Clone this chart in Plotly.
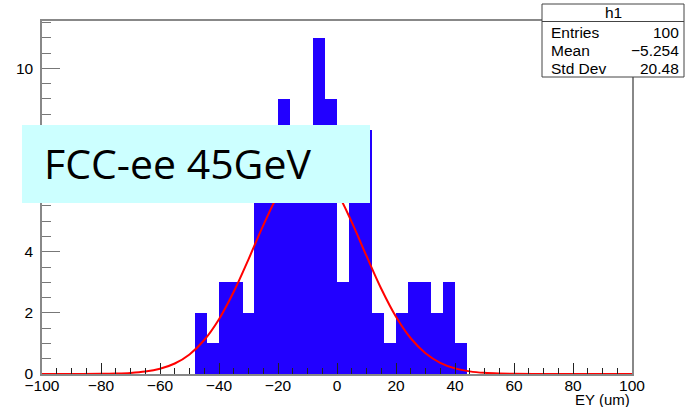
import plotly.graph_objects as go

# ---- data ----
bin_centers = [-46, -42, -38, -34, -30, -26, -22, -18, -14, -10, -6, -2,
               2, 6, 10, 14, 18, 22, 26, 30, 34, 38, 42]
bin_counts = [2, 1, 3, 3, 2, 7, 6, 9, 7, 6, 11, 9,
              3, 6, 8, 2, 1, 2, 3, 3, 2, 3, 1]
bin_width = 4

fit_x = [-100, -90, -80, -75, -70, -65, -60, -55, -50, -45, -40, -35, -30, -25,
         -20, -15, -10, -5, 0, 5, 10, 15, 20, 25, 30, 35, 40, 45, 50, 55, 60,
         70, 80, 90, 100]
fit_y = [0.0, 0.001, 0.005, 0.014, 0.034, 0.079, 0.171, 0.343, 0.640, 1.112,
         1.794, 2.691, 3.752, 4.862, 5.858, 6.560, 6.830, 6.609, 5.944, 4.970,
         3.863, 2.791, 1.875, 1.170, 0.680, 0.366, 0.184, 0.086, 0.037, 0.015,
         0.006, 0.0005, 0.0, 0.0, 0.0]

x_ticks = [-100, -80, -60, -40, -20, 0, 20, 40, 60, 80, 100]
x_tick_labels = ["\u2212100", "\u221280", "\u221260", "\u221240", "\u221220",
                 "0", "20", "40", "60", "80", "100"]
y_ticks = [0, 2, 4, 6, 8, 10]

stats_names = ["Entries", "Mean", "Std Dev"]
stats_values = ["100", "\u22125.254", "20.48"]

# ---- layout geometry (pixels) ----
W, H = 685, 407
L, R, T, B = 42, 53, 21, 33
pw, ph = W - L - R, H - T - B


def px(x):
    return (x - L) / pw


def py(y):
    return (H - B - y) / ph


fig = go.Figure()
fig.add_trace(go.Bar(x=bin_centers, y=bin_counts, width=bin_width,
                     marker=dict(color="#2200ff", line=dict(width=0)),
                     showlegend=False, hoverinfo="x+y"))
fig.add_trace(go.Scatter(x=fit_x, y=fit_y, mode="lines",
                         line=dict(color="#ff0000", width=2, shape="spline"),
                         showlegend=False))

font = "Liberation Sans, Arial, Helvetica, sans-serif"
fs = 15.5
fig.update_layout(
    width=W, height=H,
    margin=dict(l=L, r=R, t=T, b=B, pad=0),
    paper_bgcolor="white", plot_bgcolor="white",
    bargap=0,
    font=dict(family=font, size=fs, color="black"),
    xaxis=dict(range=[-100, 100], tickvals=x_ticks, ticktext=x_tick_labels,
               ticks="inside", ticklen=11, tickcolor="#222", tickwidth=1,
               minor=dict(ticks="inside", ticklen=6, dtick=5, tickcolor="#222", tickwidth=1),
               showgrid=False, zeroline=False, showline=True, linecolor="#888",
               linewidth=1.5, mirror=True, tickfont=dict(size=fs, family=font),
               ticklabelstandoff=-3),
    yaxis=dict(range=[0, 11.55], tickvals=y_ticks,
               ticks="inside", ticklen=18, tickcolor="#777", tickwidth=1,
               minor=dict(ticks="inside", ticklen=9, dtick=0.5, tickcolor="#777", tickwidth=1),
               showgrid=False, zeroline=False, showline=True, linecolor="#888",
               linewidth=1.5, mirror=True, tickfont=dict(size=fs, family=font),
               ticklabelstandoff=4),
)

shapes = []
annotations = []

# stats box
shapes.append(dict(type="rect", xref="paper", yref="paper", layer="above",
                   x0=px(542), x1=px(684), y0=py(77), y1=py(4),
                   fillcolor="white", line=dict(color="#444", width=1)))
shapes.append(dict(type="line", xref="paper", yref="paper", layer="above",
                   x0=px(542), x1=px(684), y0=py(21.5), y1=py(21.5),
                   line=dict(color="#444", width=1)))
annotations.append(dict(xref="paper", yref="paper", x=px(613), y=py(12.5),
                        text="h1", showarrow=False, xanchor="center", yanchor="middle",
                        font=dict(size=fs, family=font, color="black")))
row_y = [32, 50, 68]
for name, val, yy in zip(stats_names, stats_values, row_y):
    annotations.append(dict(xref="paper", yref="paper", x=px(549), y=py(yy),
                            text=name, showarrow=False, xanchor="left", yanchor="middle",
                            font=dict(size=fs, family=font, color="black")))
    annotations.append(dict(xref="paper", yref="paper", x=px(681), y=py(yy),
                            text=val, showarrow=False, xanchor="right", yanchor="middle",
                            font=dict(size=fs, family=font, color="black")))

# x axis title
annotations.append(dict(xref="paper", yref="paper", x=px(632), y=py(399.5),
                        text="EY (um)", showarrow=False, xanchor="right", yanchor="middle",
                        font=dict(size=15, family=font, color="black")))

# cyan label box
shapes.append(dict(type="rect", xref="paper", yref="paper", layer="above",
                   x0=px(22), x1=px(370), y0=py(203), y1=py(125),
                   fillcolor="#ccffff", line=dict(width=0)))
annotations.append(dict(xref="paper", yref="paper", x=px(42), y=py(163),
                        text="FCC-ee 45GeV", showarrow=False, xanchor="left", yanchor="middle",
                        font=dict(size=41, family="Open Sans, sans-serif", color="black")))

fig.update_layout(shapes=shapes, annotations=annotations)
fig.write_html("out.html")
